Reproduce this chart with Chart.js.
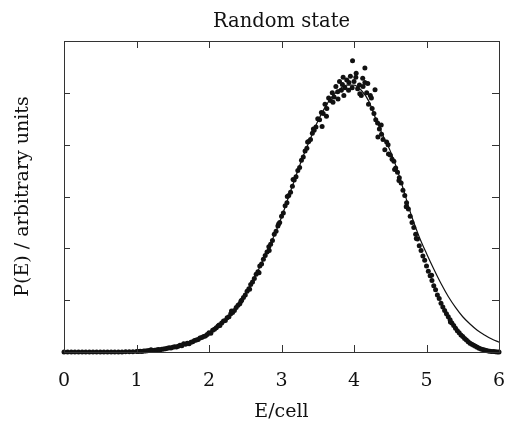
<!DOCTYPE html>
<html>
<head>
<meta charset="utf-8">
<title>Random state</title>
<script src="https://cdn.jsdelivr.net/npm/chart.js@4/dist/chart.umd.min.js"></script>
<style>
    html, body { margin: 0; padding: 0; background: #fff; }
    #wrap { width: 505px; height: 421px; position: relative; }
</style>
</head>
<body>
<div id="wrap"><canvas id="chart"></canvas></div>
<script>
(function() {
    'use strict';

    // Axis ticks (E/cell along x, arbitrary units along y)
    const xTicks = [0, 1, 2, 3, 4, 5, 6];
    const yTicks = [0, 1, 2, 3, 4, 5, 6];

    // Smooth reference curve
    const curveE = [0, 0.5, 1.0, 1.1, 1.2, 1.3, 1.4, 1.5, 1.6, 1.7, 1.8, 1.9, 2.0,
        2.1, 2.2, 2.3, 2.4, 2.5, 2.6, 2.7, 2.8, 2.9, 3.0, 3.1, 3.2, 3.3, 3.4, 3.5,
        3.6, 3.7, 3.8, 3.9, 4.0, 4.1, 4.2, 4.3, 4.4, 4.5, 4.6, 4.7, 4.8, 4.9, 5.0,
        5.1, 5.2, 5.3, 5.4, 5.5, 5.6, 5.7, 5.8, 5.9, 6.0];
    const curveP = [0, 0, 0.01, 0.02, 0.03, 0.045, 0.06, 0.09, 0.12, 0.16, 0.21, 0.28, 0.36,
        0.46, 0.58, 0.72, 0.9, 1.12, 1.36, 1.64, 1.95, 2.25, 2.6, 3.0, 3.4, 3.78, 4.12, 4.45,
        4.72, 4.93, 5.07, 5.15, 5.15, 5.05, 4.85, 4.5, 4.17, 3.88, 3.5, 3.05, 2.6, 2.22, 1.9,
        1.6, 1.32, 1.07, 0.86, 0.68, 0.54, 0.42, 0.33, 0.25, 0.19];

    // Simulated points (dots)
    const dotE = [
        0, 0.05, 0.1, 0.15, 0.2, 0.25, 0.3, 0.35, 0.4, 0.45,
        0.5, 0.55, 0.6, 0.65, 0.7, 0.75, 0.8, 0.85, 0.9, 0.95,
        1.0, 1.025, 1.05, 1.075, 1.1, 1.125, 1.15, 1.175, 1.2, 1.225,
        1.25, 1.275, 1.3, 1.325, 1.35, 1.375, 1.4, 1.425, 1.45, 1.475,
        1.5, 1.525, 1.55, 1.575, 1.6, 1.625, 1.65, 1.675, 1.7, 1.725,
        1.75, 1.775, 1.8, 1.825, 1.85, 1.875, 1.9, 1.925, 1.95, 1.975,
        2.0, 2.025, 2.05, 2.075, 2.1, 2.125, 2.15, 2.175, 2.2, 2.225,
        2.25, 2.275, 2.3, 2.325, 2.35, 2.375, 2.4, 2.425, 2.45, 2.475,
        2.5, 2.525, 2.55, 2.575, 2.6, 2.625, 2.65, 2.675, 2.7, 2.725,
        2.75, 2.775, 2.8, 2.825, 2.85, 2.875, 2.9, 2.925, 2.95, 2.975,
        3.0, 3.025, 3.05, 3.075, 3.1, 3.125, 3.15, 3.175, 3.2, 3.225,
        3.25, 3.275, 3.3, 3.325, 3.35, 3.375, 3.4, 3.425, 3.45, 3.475,
        3.5, 3.525, 3.55, 3.575, 3.6, 3.625, 3.65, 3.675, 3.7, 3.725,
        3.75, 3.775, 3.8, 3.825, 3.85, 3.875, 3.9, 3.925, 3.95, 3.975,
        4.0, 4.025, 4.05, 4.075, 4.1, 4.125, 4.15, 4.175, 4.2, 4.225,
        4.25, 4.275, 4.3, 4.325, 4.35, 4.375, 4.4, 4.425, 4.45, 4.475,
        4.5, 4.525, 4.55, 4.575, 4.6, 4.625, 4.65, 4.675, 4.7, 4.725,
        4.75, 4.775, 4.8, 4.825, 4.85, 4.875, 4.9, 4.925, 4.95, 4.975,
        5.0, 5.025, 5.05, 5.075, 5.1, 5.125, 5.15, 5.175, 5.2, 5.225,
        5.25, 5.275, 5.3, 5.325, 5.35, 5.375, 5.4, 5.425, 5.45, 5.475,
        5.5, 5.525, 5.55, 5.575, 5.6, 5.625, 5.65, 5.675, 5.7, 5.725,
        5.75, 5.775, 5.8, 5.825, 5.85, 5.875, 5.9, 5.925, 5.95, 5.975,
        6.0, 3.98, 4.15, 4.29, 3.86, 4.08, 4.33, 3.62, 3.78, 4.19,
        3.71, 3.93, 4.03, 4.24, 4.38, 3.56, 4.12, 3.84, 2.31, 2.56,
        2.83, 3.08, 3.36, 4.62, 4.47, 4.86, 3.16, 2.69, 4.56, 2.14,
        2.44, 2.96, 3.44, 4.72, 5.07, 5.33
    ];
    const dotP = [
        0, 0, 0, 0, 0, 0, 0, 0, 0, 0,
        0, 0, 0, 0, 0, 0, 0, 0.003, 0.005, 0.005,
        0.01, 0.012, 0.015, 0.01, 0.02, 0.018, 0.025, 0.03, 0.045, 0.03,
        0.035, 0.04, 0.05, 0.045, 0.055, 0.06, 0.065, 0.07, 0.08, 0.075,
        0.09, 0.1, 0.095, 0.11, 0.13, 0.12, 0.16, 0.15, 0.17, 0.16,
        0.19, 0.2, 0.22, 0.23, 0.24, 0.27, 0.28, 0.3, 0.31, 0.34,
        0.37, 0.36, 0.42, 0.44, 0.47, 0.5, 0.51, 0.56, 0.6, 0.61,
        0.66, 0.68, 0.74, 0.76, 0.8, 0.86, 0.9, 0.93, 1.0, 1.05,
        1.1, 1.17, 1.22, 1.3, 1.35, 1.42, 1.5, 1.55, 1.66, 1.7,
        1.79, 1.86, 1.93, 2.03, 2.08, 2.15, 2.27, 2.33, 2.43, 2.5,
        2.62, 2.68, 2.82, 2.88, 3.02, 3.08, 3.2, 3.32, 3.38, 3.5,
        3.56, 3.7, 3.76, 3.88, 3.93, 4.06, 4.1, 4.22, 4.28, 4.34,
        4.5, 4.48, 4.62, 4.6, 4.78, 4.7, 4.9, 4.85, 5.0, 4.92,
        5.12, 5.02, 5.22, 5.05, 5.3, 5.1, 5.25, 5.05, 5.32, 5.1,
        5.22, 5.3, 5.08, 5.15, 4.95, 5.12, 5.2, 5.0, 4.78, 4.95,
        4.7, 4.6, 4.48, 4.42, 4.3, 4.38, 4.1, 3.9, 4.05, 3.82,
        3.8, 3.72, 3.68, 3.55, 3.47, 3.36, 3.26, 3.12, 3.02, 2.88,
        2.76, 2.62, 2.5, 2.4, 2.27, 2.18, 2.05, 1.96, 1.85, 1.77,
        1.66, 1.56, 1.47, 1.38, 1.28, 1.2, 1.1, 1.03, 0.94, 0.87,
        0.8, 0.74, 0.68, 0.62, 0.56, 0.51, 0.46, 0.41, 0.37, 0.33,
        0.3, 0.26, 0.23, 0.2, 0.17, 0.15, 0.13, 0.11, 0.09, 0.07,
        0.06, 0.05, 0.04, 0.03, 0.02, 0.015, 0.01, 0.008, 0.005, 0.002,
        0, 5.62, 5.48, 5.06, 4.95, 4.98, 4.15, 4.55, 4.88, 5.18,
        4.82, 5.2, 5.38, 4.9, 4.2, 4.35, 5.28, 5.16, 0.79, 1.21,
        1.96, 3.0, 4.05, 3.31, 4.0, 2.19, 3.33, 1.53, 3.52, 0.52,
        0.98, 2.47, 4.3, 2.8, 1.48, 0.58
    ];

    const serif = '"DejaVu Serif", "Liberation Serif", serif';
    const ink = '#111';

    /**
     * Frame box plus inward tick marks on all four sides
     */
    const frameTicks = {
        id: 'frameTicks',
        afterDatasetsDraw(chart) {
            const { ctx, chartArea: a, scales: { x, y } } = chart;
            ctx.save();
            ctx.strokeStyle = '#333';
            ctx.lineWidth = 1;
            ctx.strokeRect(Math.round(a.left) + 0.5, Math.round(a.top) + 0.5,
                Math.round(a.right - a.left), Math.round(a.bottom - a.top));
            ctx.beginPath();
            x.ticks.forEach(function(t) {
                if (t.value <= x.min || t.value >= x.max) return;
                const px = Math.round(x.getPixelForValue(t.value)) + 0.5;
                ctx.moveTo(px, a.bottom); ctx.lineTo(px, a.bottom - 7);
                ctx.moveTo(px, a.top); ctx.lineTo(px, a.top + 7);
            });
            y.ticks.forEach(function(t) {
                if (t.value <= y.min || t.value >= y.max) return;
                const py = Math.round(y.getPixelForValue(t.value)) + 0.5;
                ctx.moveTo(a.left, py); ctx.lineTo(a.left + 6, py);
                ctx.moveTo(a.right, py); ctx.lineTo(a.right - 7, py);
            });
            ctx.stroke();
            ctx.restore();
        }
    };

    function setTicks(values) {
        return function(scale) {
            scale.ticks = values.map(function(v) { return { value: v }; });
        };
    }

    const ctx = document.getElementById('chart').getContext('2d');
    new Chart(ctx, {
        type: 'line',
        data: {
            datasets: [{
                label: 'simulation',
                data: dotE.map(function(e, i) { return { x: e, y: dotP[i] }; }),
                showLine: false,
                pointRadius: 2.5,
                pointBorderWidth: 0,
                pointBackgroundColor: ink,
                clip: 4,
                order: 1
            }, {
                label: 'theory',
                data: curveE.map(function(e, i) { return { x: e, y: curveP[i] }; }),
                borderColor: ink,
                borderWidth: 1.2,
                pointRadius: 0,
                cubicInterpolationMode: 'monotone',
                fill: false,
                order: 2
            }]
        },
        options: {
            responsive: true,
            maintainAspectRatio: false,
            animation: false,
            layout: { padding: { left: 0, right: 6, top: 0, bottom: 0 } },
            scales: {
                x: {
                    type: 'linear',
                    position: 'bottom',
                    min: xTicks[0],
                    max: xTicks[xTicks.length - 1],
                    afterBuildTicks: setTicks(xTicks),
                    afterFit: function(scale) {
                        scale.height = 69;
                        scale.paddingLeft = 0;
                        scale.paddingRight = 0;
                    },
                    grid: { display: false, drawTicks: false },
                    border: { display: false },
                    ticks: {
                        color: ink,
                        padding: 18,
                        maxRotation: 0,
                        font: { family: serif, size: 19 }
                    },
                    title: {
                        display: true,
                        text: 'E/cell',
                        color: ink,
                        padding: { top: 0, bottom: -2 },
                        font: { family: serif, size: 19 }
                    }
                },
                xTop: {
                    type: 'linear',
                    position: 'top',
                    min: xTicks[0],
                    max: xTicks[xTicks.length - 1],
                    afterFit: function(scale) {
                        scale.height = 41;
                    },
                    grid: { display: false, drawTicks: false },
                    border: { display: false },
                    ticks: { display: false },
                    title: {
                        display: true,
                        text: 'Random state',
                        color: ink,
                        padding: { top: 10.4, bottom: 0 },
                        font: { family: serif, size: 19.5 }
                    }
                },
                y: {
                    type: 'linear',
                    min: yTicks[0],
                    max: yTicks[yTicks.length - 1],
                    afterBuildTicks: setTicks(yTicks),
                    afterFit: function(scale) {
                        scale.width = 64;
                    },
                    grid: { display: false, drawTicks: false },
                    border: { display: false },
                    ticks: { display: false },
                    title: {
                        display: true,
                        text: 'P(E) / arbitrary units',
                        color: ink,
                        padding: { top: 12, bottom: 0 },
                        font: { family: serif, size: 19 }
                    }
                }
            },
            plugins: {
                legend: { display: false },
                tooltip: { enabled: false },
                title: { display: false }
            }
        },
        plugins: [frameTicks]
    });
})();
</script>
</body>
</html>
